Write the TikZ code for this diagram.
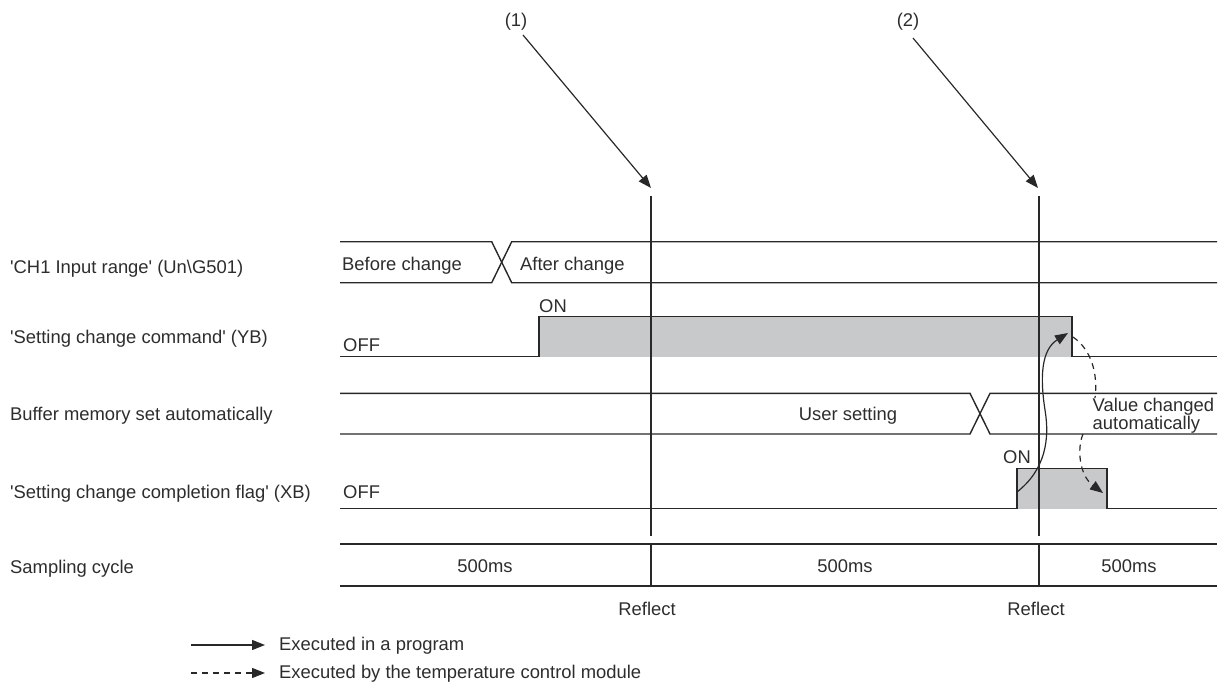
\documentclass[tikz,border=0pt]{standalone}
\usepackage{fontspec}
\setmainfont{Liberation Sans}
\usetikzlibrary{arrows.meta}
\definecolor{ln}{RGB}{40,40,40}
\definecolor{txt}{RGB}{45,45,45}
\definecolor{fillg}{RGB}{200,201,202}
\begin{document}
\begin{tikzpicture}[x=1pt,y=-1pt,
  lbl/.style={font=\fontsize{18.4}{21}\selectfont, text=txt, inner sep=0pt, anchor=base west},
  lblc/.style={lbl, anchor=base},
  wave/.style={draw=ln, line width=1.4pt},
  conn/.style={draw=ln, line width=1.2pt},
  tip/.style={-{Triangle[length=13pt,width=10pt]}},
  dsh/.style={dash pattern=on 6pt off 5pt},
  ]
\useasboundingbox (0,0) rectangle (1224,691);

% left labels
\node[lbl] (lab1) at (10,273) {\textquotesingle CH1 Input range\textquotesingle{} (Un\textbackslash G501)};
\node[lbl] (lab2) at (10,343) {\textquotesingle Setting change command\textquotesingle{} (YB)};
\node[lbl] (lab3) at (10,420.6) {Buffer memory set automatically};
\node[lbl] (lab4) at (10,498.6) {\textquotesingle Setting change completion flag\textquotesingle{} (XB)};
\node[lbl] (lab5) at (10,573.6) {Sampling cycle};

% fills
\fill[fillg] (539,316.7) rectangle (1072,356.7);
\fill[fillg] (1017,468.7) rectangle (1107,508.7);

% row 1
\draw[wave] (340,241.7) -- (491.7,241.7) -- (511.7,282.7) -- (1217,282.7);
\draw[wave] (340,282.7) -- (491.7,282.7) -- (511.7,241.7) -- (1217,241.7);
\node[lbl] (bc) at (342,270.7) {Before change};
\node[lbl] (ac) at (520,270.7) {After change};

% row 2
\draw[wave] (340,356.7) -- (539,356.7) -- (539,316.7) -- (1072,316.7) -- (1072,356.7) -- (1217,356.7);
\node[lbl] (off1) at (343,351.7) {OFF};
\node[lbl] (on1) at (539,312.7) {ON};

% row 3
\draw[wave] (340,393.3) -- (970,393.3) -- (990,434) -- (1217,434);
\draw[wave] (340,434) -- (970,434) -- (990,393.3) -- (1217,393.3);
\node[lblc] (us) at (848,420.6) {User setting};
\node[lbl] (vc1) at (1092.5,411.7) {Value changed};
\node[lbl] (vc2) at (1092.5,429) {automatically};

% row 4
\draw[wave] (340,508.7) -- (1017,508.7) -- (1017,468.7) -- (1107,468.7) -- (1107,508.7) -- (1217,508.7);
\node[lbl] (off2) at (343,498.6) {OFF};
\node[lbl] (on2) at (1003,463.3) {ON};

% reflect verticals
\draw[wave] (651,196) -- (651,536);
\draw[wave] (1039,196) -- (1039,536);

% sampling row
\draw[wave] (340,544) -- (1217,544);
\draw[wave] (340,586) -- (1217,586);
\draw[wave] (651,544) -- (651,586);
\draw[wave] (1039,544) -- (1039,586);
\node[lblc] (ms1) at (485,572.7) {500ms};
\node[lblc] (ms2) at (845,572.7) {500ms};
\node[lblc] (ms3) at (1129,572.7) {500ms};
\node[lblc] (rf1) at (647,615) {Reflect};
\node[lblc] (rf2) at (1036,615) {Reflect};

% top markers
\node[lblc] (m1) at (516,26) {(1)};
\node[lblc] (m2) at (908,26) {(2)};
\coordinate (s1) at (523,35);
\coordinate (e1) at (651,188);
\coordinate (s2) at (913,38);
\coordinate (e2) at (1038,188);
\draw[conn,tip] (s1) -- (e1);
\draw[conn,tip] (s2) -- (e2);

% program arrow (XB -> YB)
\coordinate (pa) at (1017,492);
\coordinate (pb) at (1068,333);
\draw[conn,tip] (pa) .. controls (1045,470) and (1050,440) .. (1045,410)
   .. controls (1040,378) and (1041,350) .. (pb);

% module arrow (YB off -> XB off), split by text
\coordinate (da) at (1073,337);
\coordinate (db) at (1095,398);
\coordinate (dc) at (1083,434);
\coordinate (dd) at (1103,493);
\draw[conn,dsh] (da) .. controls (1092,350) and (1098,375) .. (db);
\draw[conn,dsh,tip] (dc) .. controls (1077,448) and (1079,475) .. (dd);

% legend
\coordinate (la1) at (191,645);
\coordinate (lb1) at (265,645);
\coordinate (la2) at (191,673);
\coordinate (lb2) at (265,673);
\draw[conn,tip] (la1) -- (lb1);
\draw[conn,dsh,tip] (la2) -- (lb2);
\node[lbl] (lg1) at (279,650.5) {Executed in a program};
\node[lbl] (lg2) at (279,678) {Executed by the temperature control module};
\end{tikzpicture}
\end{document}
